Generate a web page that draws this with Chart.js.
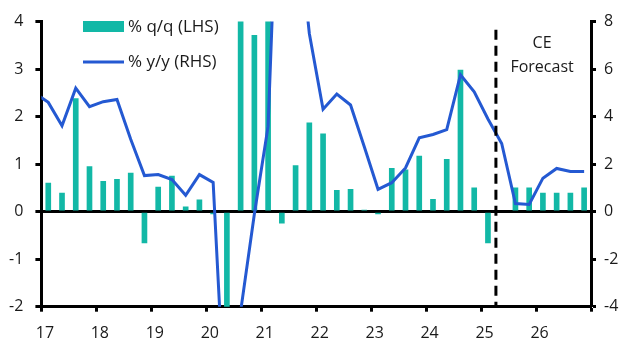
<!DOCTYPE html>
<html><head><meta charset="utf-8">
<script src="https://cdn.jsdelivr.net/npm/chart.js@4/dist/chart.umd.min.js"></script>
<style>html,body{margin:0;padding:0;background:#fff}#wrap{width:632px;height:356px}</style>
</head><body><div id="wrap"><canvas id="c" width="632" height="356"></canvas></div>
<script>
// ---- data ----
const quarters = ['16Q4',
  '17Q1','17Q2','17Q3','17Q4','18Q1','18Q2','18Q3','18Q4',
  '19Q1','19Q2','19Q3','19Q4','20Q1','20Q2','20Q3','20Q4',
  '21Q1','21Q2','21Q3','21Q4','22Q1','22Q2','22Q3','22Q4',
  '23Q1','23Q2','23Q3','23Q4','24Q1','24Q2','24Q3','24Q4',
  '25Q1','25Q2','25Q3','25Q4','26Q1','26Q2','26Q3','26Q4'];
const qoqGrowth = [null,
  0.60, 0.39, 2.38, 0.95, 0.64, 0.68, 0.81, -0.66,
  0.52, 0.75, 0.10, 0.25, -0.05, -9.9, 5.8, 3.71,
  4.1, -0.24, 0.97, 1.87, 1.64, 0.45, 0.47, 0.03,
  -0.05, 0.91, 0.88, 1.17, 0.26, 1.10, 2.98, 0.50,
  -0.66, null, 0.50, 0.50, 0.39, 0.39, 0.39, 0.50];
const yoyGrowth = [5.0,
  4.6, 3.62, 5.2, 4.42, 4.63, 4.72, 3.05, 1.52,
  1.56, 1.35, 0.69, 1.56, 1.23, -10.0, -4.2, -0.1,
  3.6, 19.0, 13.0, 7.5, 4.31, 4.95, 4.49, 2.73,
  0.94, 1.22, 1.84, 3.11, 3.25, 3.45, 5.76, 5.04,
  3.9, 2.87, 0.34, 0.30, 1.41, 1.82, 1.69, 1.69];
const xTickLabels = ['17','18','19','20','21','22','23','24','25','26'];
const leftTicks = [-2, -1, 0, 1, 2, 3, 4];
const rightTicks = [-4, -2, 0, 2, 4, 6, 8];
const seriesNames = ['% q/q (LHS)', '% y/y (RHS)'];
const forecastStart = 2025.27;
const forecastText = ['CE', 'Forecast'];

// ---- helpers ----
function quarterToX(q) {
  const yr = 2000 + parseInt(q.slice(0, 2), 10);
  const n = parseInt(q.slice(3), 10);
  return yr + (n - 0.5) / 4;
}
const TEAL = '#12b8a6';
const BLUE = '#2459d2';
const FONT = 'Open Sans';
const TXT = '#1a1a1a';

const barData = quarters.map((q, i) => ({ x: quarterToX(q), y: qoqGrowth[i] })).filter(d => d.y !== null);
const lineData = quarters.map((q, i) => ({ x: quarterToX(q), y: yoyGrowth[i] }));

const overlay = {
  id: 'overlay',
  afterDatasetsDraw(chart) {
    const { ctx, scales } = chart;
    const xs = scales.x, yl = scales.y;
    ctx.save();
    // forecast divider
    const fx = xs.getPixelForValue(forecastStart);
    ctx.strokeStyle = '#000';
    ctx.lineWidth = 3;
    ctx.setLineDash([10, 6]);
    ctx.beginPath();
    ctx.moveTo(fx, yl.getPixelForValue(3.83));
    ctx.lineTo(fx, yl.getPixelForValue(-2));
    ctx.stroke();
    ctx.setLineDash([]);
    // forecast label
    ctx.fillStyle = TXT;
    ctx.font = '16px "' + FONT + '"';
    ctx.textAlign = 'center';
    ctx.textBaseline = 'middle';
    const tx = xs.getPixelForValue(2026.11);
    ctx.fillText(forecastText[0], tx, yl.getPixelForValue(3.53));
    ctx.fillText(forecastText[1], tx, yl.getPixelForValue(3.03));
    // legend
    ctx.textAlign = 'left';
    ctx.font = '17px "' + FONT + '"';
    ctx.fillStyle = TEAL;
    ctx.fillRect(83, 21, 41, 11);
    ctx.strokeStyle = BLUE;
    ctx.lineWidth = 3;
    ctx.beginPath();
    ctx.moveTo(83, 62);
    ctx.lineTo(124, 62);
    ctx.stroke();
    ctx.fillStyle = TXT;
    ctx.fillText(seriesNames[0], 128, 27);
    ctx.fillText(seriesNames[1], 128, 62);
    ctx.restore();
  }
};

new Chart(document.getElementById('c'), {
  data: {
    datasets: [
      { type: 'line', label: seriesNames[1], data: lineData, yAxisID: 'y2', xAxisID: 'x',
        borderColor: BLUE, borderWidth: 3, pointRadius: 0, tension: 0, order: 0,
        borderJoinStyle: 'miter' },
      { type: 'bar', label: seriesNames[0], data: barData, yAxisID: 'y', xAxisID: 'x',
        backgroundColor: TEAL, barThickness: 5, order: 1 }
    ]
  },
  options: {
    responsive: false,
    devicePixelRatio: 1,
    animation: false,
    layout: { padding: { top: 16.7, left: 0, right: 0, bottom: 0 } },
    plugins: { legend: { display: false }, tooltip: { enabled: false } },
    scales: {
      x: {
        type: 'linear', min: 2017, max: 2027, offset: false,
        afterBuildTicks: s => { s.ticks = xTickLabels.map((t, i) => ({ value: 2017 + i })).concat([{ value: 2027 }]); },
        ticks: {
          autoSkip: false, maxRotation: 0, labelOffset: 3.5, padding: 12, color: TXT,
          font: { family: FONT, size: 16 },
          callback: (v) => { const i = Math.round(v) - 2017; return xTickLabels[i] !== undefined ? xTickLabels[i] : ''; }
        },
        grid: { offset: false, drawOnChartArea: false, drawTicks: true, tickLength: 5, tickColor: '#000', tickWidth: 3 },
        border: { display: true, color: '#000', width: 3 },
        afterFit: s => { s.height = 49.3; }
      },
      y: {
        position: 'left', min: -2, max: 4,
        afterBuildTicks: s => { s.ticks = leftTicks.map(v => ({ value: v })); },
        ticks: { padding: 12, color: TXT, font: { family: FONT, size: 16 }, callback: v => String(v) },
        grid: {
          color: c => (c.tick && c.tick.value === 0) ? '#000' : 'rgba(0,0,0,0)',
          lineWidth: 3, drawTicks: true, tickLength: 6, tickColor: '#000', tickWidth: 3
        },
        border: { display: true, color: '#000', width: 3 },
        afterFit: s => { s.width = 41.4; }
      },
      y2: {
        position: 'right', min: -4, max: 8,
        afterBuildTicks: s => { s.ticks = rightTicks.map(v => ({ value: v })); },
        ticks: { padding: 8, color: TXT, font: { family: FONT, size: 16 }, callback: v => String(v) },
        grid: { drawOnChartArea: false, drawTicks: true, tickLength: 5, tickColor: '#000', tickWidth: 3 },
        border: { display: true, color: '#000', width: 3 },
        afterFit: s => { s.width = 41; }
      }
    }
  },
  plugins: [overlay]
});
</script>
</body></html>
